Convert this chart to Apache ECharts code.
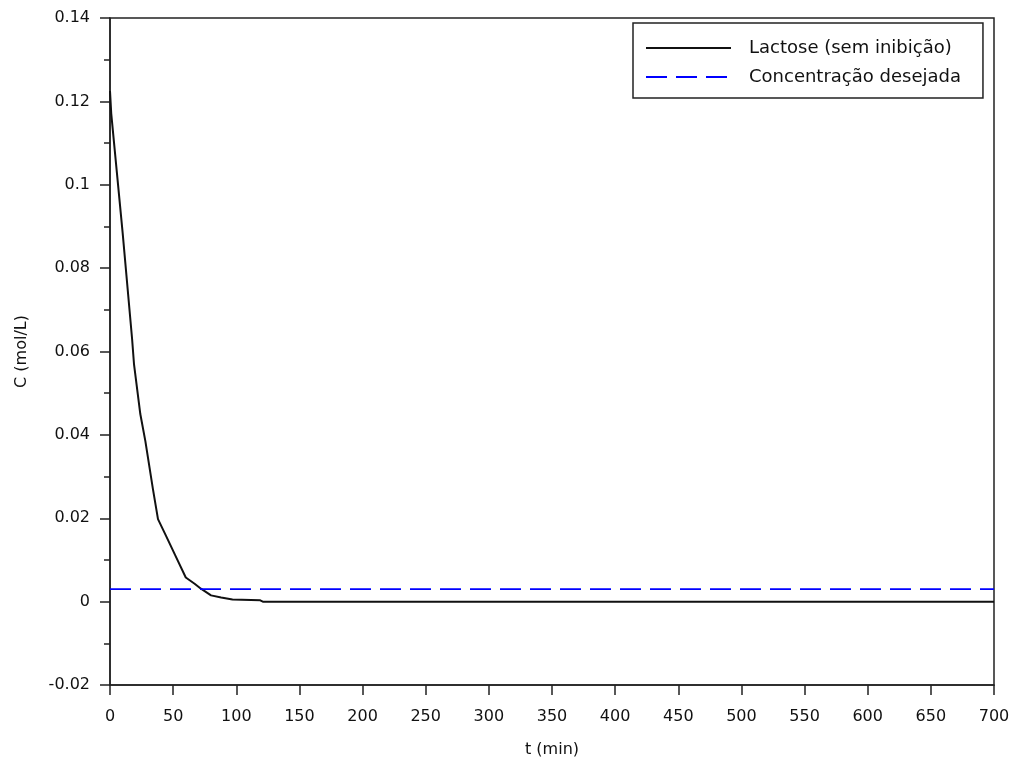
<!DOCTYPE html>
<html>
<head>
<meta charset="utf-8">
<script src="https://cdn.jsdelivr.net/npm/echarts@6/dist/echarts.min.js"></script>
<style>
  html, body { margin: 0; padding: 0; background: #fff; }
  #chart { width: 1014px; height: 765px; }
</style>
</head>
<body>
<div id="chart"></div>
<script>
// dados
var tempo = [0, 1, 10, 17.5, 19, 24, 28, 34, 38, 44, 51.5, 60, 67, 72, 80, 88, 97, 119, 121, 700];
var lactose = [0.1225, 0.117, 0.0885, 0.063, 0.057, 0.045, 0.0385, 0.027, 0.0198, 0.016, 0.0112, 0.0058, 0.0043, 0.0031, 0.0015, 0.001, 0.0005, 0.0003, 0, 0];
var tempoDesejado = [0, 700];
var concDesejada = [0.003, 0.003];
var nomes = ['Lactose (sem inibição)', 'Concentração desejada'];

var fonte = 'DejaVu Sans';

function pares(xs, ys) {
  var out = [];
  for (var i = 0; i < xs.length; i++) out.push([xs[i], ys[i]]);
  return out;
}

var chart = echarts.init(document.getElementById('chart'));

var option = {
  animation: false,
  backgroundColor: '#fff',
  grid: {
    left: 110, right: 20, top: 18, bottom: 80,
    show: true, borderColor: '#222', borderWidth: 1.5, backgroundColor: 'transparent'
  },
  legend: {
    data: nomes,
    orient: 'vertical',
    left: 633, top: 23,
    padding: [15, 22, 11, 12],
    itemWidth: 85, itemHeight: 20, itemGap: 9,
    backgroundColor: '#fff',
    borderColor: '#222', borderWidth: 1.5, borderRadius: 0,
    itemStyle: { opacity: 0 },
    textStyle: {
      fontFamily: fonte, fontSize: 18, color: '#111',
      lineHeight: 20, padding: [0, 0, 0, 13]
    }
  },
  xAxis: {
    type: 'value',
    min: 0, max: 700, interval: 50,
    name: 't (min)',
    nameLocation: 'middle', nameGap: 57,
    nameTextStyle: { fontFamily: fonte, fontSize: 16, color: '#111' },
    axisLine: { onZero: false, lineStyle: { color: '#222', width: 1.5 } },
    axisTick: { length: 10, lineStyle: { color: '#222', width: 1.5 } },
    axisLabel: { margin: 24, fontFamily: fonte, fontSize: 16, color: '#111' },
    splitLine: { show: false }
  },
  yAxis: {
    type: 'value',
    min: -0.02, max: 0.14, interval: 0.02,
    name: 'C (mol/L)',
    nameLocation: 'middle', nameGap: 80,
    nameTextStyle: { fontFamily: fonte, fontSize: 16, color: '#111' },
    axisLine: { show: true, onZero: false, lineStyle: { color: '#222', width: 1.5 } },
    axisTick: { show: true, length: 10, lineStyle: { color: '#222', width: 1.5 } },
    minorTick: { show: true, splitNumber: 2, length: 6, lineStyle: { color: '#222', width: 1.5 } },
    axisLabel: {
      margin: 20, fontFamily: fonte, fontSize: 16, color: '#111',
      formatter: function (v) { return String(parseFloat(v.toFixed(2))); }
    },
    splitLine: { show: false }
  },
  series: [
    {
      name: nomes[0],
      type: 'line',
      data: pares(tempo, lactose),
      symbol: 'none',
      lineStyle: { color: '#111', width: 2 },
      itemStyle: { color: '#111' }
    },
    {
      name: nomes[1],
      type: 'line',
      data: pares(tempoDesejado, concDesejada),
      symbol: 'none',
      lineStyle: { color: '#0000ff', width: 1.8, type: [21, 9] },
      itemStyle: { color: '#0000ff' }
    }
  ]
};

chart.setOption(option);
</script>
</body>
</html>
